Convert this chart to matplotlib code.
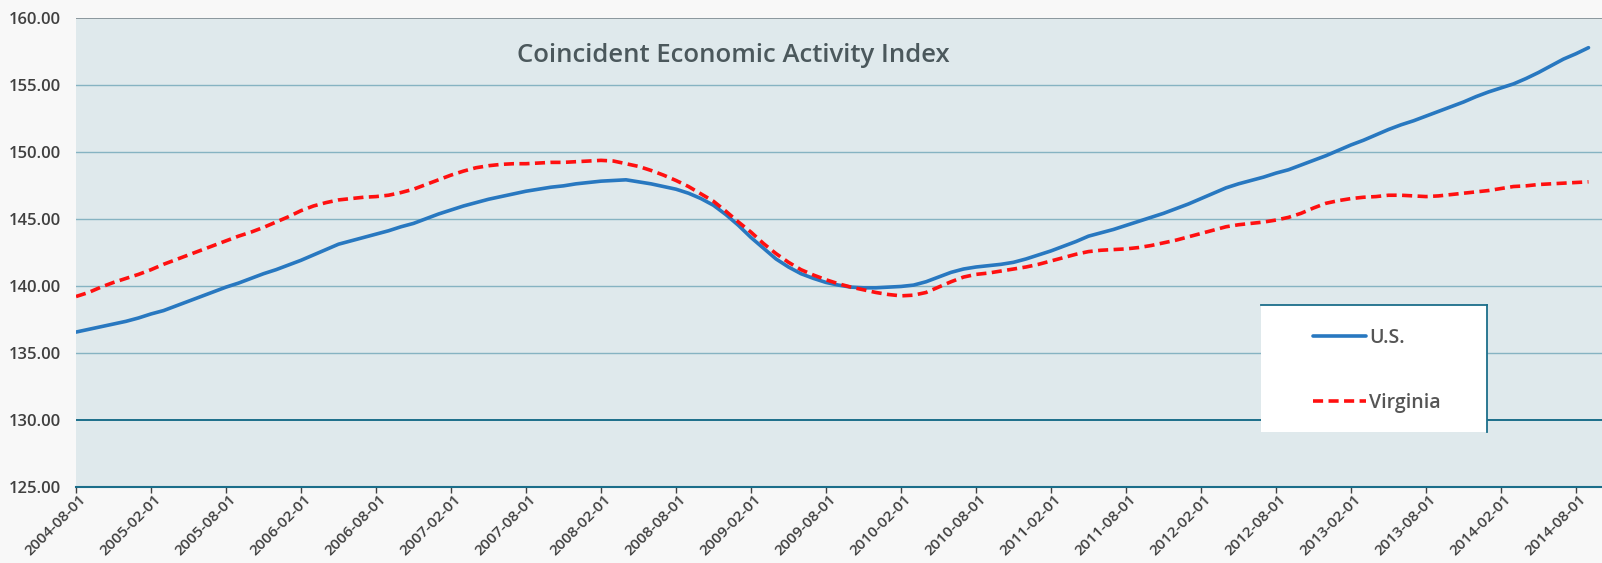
import matplotlib
matplotlib.use("Agg")
import matplotlib.pyplot as plt
import matplotlib.transforms as mtransforms
from matplotlib.patches import Rectangle
from matplotlib.lines import Line2D

# Monthly data, 2004-08 .. 2014-09
start_month = "2004-08"
us = [136.55, 136.75, 136.95, 137.15, 137.35, 137.6, 137.9, 138.15, 138.5, 138.85,
      139.2, 139.55, 139.9, 140.2, 140.55, 140.9, 141.2, 141.55, 141.9, 142.3,
      142.7, 143.1, 143.35, 143.6, 143.85, 144.1, 144.4, 144.65, 145.0, 145.35,
      145.65, 145.95, 146.2, 146.45, 146.65, 146.85, 147.05, 147.2, 147.35, 147.45,
      147.6, 147.7, 147.8, 147.85, 147.9, 147.75, 147.6, 147.4, 147.2, 146.9,
      146.5, 146.0, 145.3, 144.5, 143.6, 142.8, 142.0, 141.4, 140.9, 140.55,
      140.25, 140.05, 139.9, 139.85, 139.85, 139.9, 139.95, 140.05, 140.3, 140.65,
      141.0, 141.25, 141.4, 141.5, 141.6, 141.75, 142.0, 142.3, 142.6, 142.95,
      143.3, 143.7, 143.95, 144.2, 144.5, 144.8, 145.1, 145.4, 145.75, 146.1,
      146.5, 146.9, 147.3, 147.6, 147.85, 148.1, 148.4, 148.65, 149.0, 149.35,
      149.7, 150.1, 150.5, 150.85, 151.25, 151.65, 152.0, 152.3, 152.65, 153.0,
      153.35, 153.7, 154.1, 154.45, 154.75, 155.05, 155.45, 155.9, 156.4, 156.9,
      157.3, 157.75]
virginia = [139.2, 139.5, 139.9, 140.25, 140.55, 140.85, 141.2, 141.6, 141.95, 142.3,
            142.65, 143.0, 143.35, 143.7, 144.0, 144.35, 144.75, 145.15, 145.6, 145.95,
            146.2, 146.4, 146.5, 146.6, 146.65, 146.75, 146.95, 147.2, 147.55, 147.9,
            148.25, 148.55, 148.8, 148.95, 149.05, 149.1, 149.1, 149.15, 149.2, 149.2,
            149.25, 149.3, 149.35, 149.3, 149.1, 148.9, 148.6, 148.25, 147.85, 147.4,
            146.85, 146.3, 145.55, 144.75, 144.0, 143.15, 142.4, 141.75, 141.2, 140.8,
            140.45, 140.15, 139.9, 139.7, 139.5, 139.35, 139.25, 139.3, 139.5, 139.9,
            140.3, 140.65, 140.85, 140.95, 141.1, 141.25, 141.4, 141.6, 141.85, 142.1,
            142.35, 142.55, 142.65, 142.7, 142.75, 142.85, 143.0, 143.2, 143.4, 143.65,
            143.9, 144.15, 144.4, 144.55, 144.65, 144.75, 144.9, 145.1, 145.4, 145.8,
            146.15, 146.35, 146.5, 146.6, 146.65, 146.75, 146.75, 146.7, 146.65, 146.7,
            146.8, 146.9, 147.0, 147.1, 147.25, 147.4, 147.45, 147.55, 147.6, 147.65,
            147.7, 147.75]
tick_labels = ["2004-08-01", "2005-02-01", "2005-08-01", "2006-02-01", "2006-08-01",
               "2007-02-01", "2007-08-01", "2008-02-01", "2008-08-01", "2009-02-01",
               "2009-08-01", "2010-02-01", "2010-08-01", "2011-02-01", "2011-08-01",
               "2012-02-01", "2012-08-01", "2013-02-01", "2013-08-01", "2014-02-01",
               "2014-08-01"]
y_ticks = [125, 130, 135, 140, 145, 150, 155, 160]
series_names = ["U.S.", "Virginia"]
title = "Coincident Economic Activity Index"

plt.rcParams['font.family'] = ['Open Sans', 'DejaVu Sans']

W, H = 1602, 563
fig = plt.figure(figsize=(W / 100, H / 100), dpi=100, facecolor="#f8f8f8")
ax = fig.add_axes([76 / W, 1 - 487 / H, (W - 76) / W, (487 - 17.5) / H])
ax.set_facecolor("#dfe9ec")

months = list(range(len(us)))
ax.plot(months, us, color="#2878c0", lw=2.6, solid_capstyle="round", zorder=3,
        label=series_names[0])
ax.plot(months, virginia, color="#ff1010", lw=2.6, linestyle=(0, (2.8, 1.5)), zorder=4,
        label=series_names[1])

ax.set_xlim(0, (W - 76) / 12.5)
ax.set_ylim(125, 160)

# gridlines
for v in y_ticks:
    if v in (125,):
        continue
    if v == 130:
        ax.axhline(v, color="#1b6e8a", lw=1.4, zorder=1)
    elif v == 160:
        ax.axhline(v, color="#7d8a90", lw=1.2, zorder=1)
    else:
        ax.axhline(v, color="#86b3c2", lw=1.0, zorder=1)

for s in ["left", "right", "top"]:
    ax.spines[s].set_visible(False)
ax.spines["bottom"].set_color("#1b6e8a")
ax.spines["bottom"].set_linewidth(1.5)

ax.set_yticks(y_ticks)
ax.set_yticklabels([f"{v:.2f}" for v in y_ticks])
ax.tick_params(axis="y", length=0, pad=11, labelsize=12, labelcolor="#404040")

ax.set_xticks(list(range(0, 6 * len(tick_labels), 6)))
ax.set_xticklabels(tick_labels, rotation=45, ha="right", va="center",
                   rotation_mode="anchor")
ax.tick_params(axis="x", length=4, width=1, color="#404040", pad=3,
               labelsize=11, labelcolor="#404040")
offset = mtransforms.ScaledTranslation(8 / 100, 0, fig.dpi_scale_trans)
for lab in ax.get_xticklabels():
    lab.set_transform(lab.get_transform() + offset)
for lab in ax.get_xticklabels() + ax.get_yticklabels():
    lab.set_fontweight("semibold")

ax.text((733 - 76) / (W - 76), (487 - 55) / (487 - 17.5), title,
        transform=ax.transAxes, ha="center", va="center", fontsize=18.5,
        fontweight="semibold", color="#4b585c")

# legend box
x0 = (1261 - 76) / (W - 76)
x1 = (1487 - 76) / (W - 76)
yt = (487 - 305) / (487 - 17.5)
yb = (487 - 432) / (487 - 17.5)
ax.add_patch(Rectangle((x0, yb), x1 - x0, yt - yb, transform=ax.transAxes,
                       facecolor="white", edgecolor="none", zorder=5))
ax.add_line(Line2D([x0, x1], [yt, yt], transform=ax.transAxes, color="#1b6e8a",
                   lw=1.3, zorder=6))
ax.add_line(Line2D([x1, x1], [yb, yt], transform=ax.transAxes, color="#1b6e8a",
                   lw=1.3, zorder=6))
leg = ax.legend(loc="upper left",
                bbox_to_anchor=((1313 - 76) / (W - 76), (487 - 328) / (487 - 17.5)),
                frameon=False, borderpad=0, borderaxespad=0, handlelength=2.7,
                handletextpad=0.2, labelspacing=2.3, fontsize=14)
leg.set_zorder(7)
for t in leg.get_texts():
    t.set_color("#555555")
    t.set_fontweight("semibold")

fig.savefig("out.png", dpi=100, facecolor=fig.get_facecolor())
